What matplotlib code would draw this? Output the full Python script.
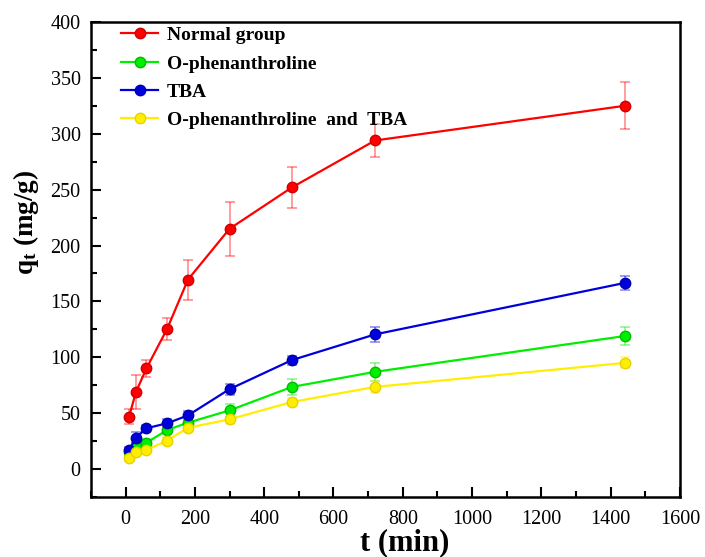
import matplotlib
matplotlib.use("Agg")
import matplotlib.pyplot as plt
from matplotlib.ticker import MultipleLocator

plt.rcParams['font.family'] = 'Liberation Serif'
plt.rcParams['mathtext.fontset'] = 'custom'
plt.rcParams['mathtext.rm'] = 'Liberation Serif'
plt.rcParams['mathtext.bf'] = 'Liberation Serif:bold'

# sampling times (min)
t = [10, 30, 60, 120, 180, 300, 480, 720, 1440]

# adsorption capacity q_t (mg/g) and error bars
normal = [47, 69, 90, 125.5, 169.5, 215, 252, 294, 325]
normal_err = [7, 15, 8, 10, 18, 24, 18, 15, 21]
ophen = [15, 20.5, 23.5, 35, 41.5, 52.5, 73.5, 87, 119]
ophen_err = [3, 3, 3, 4, 4, 6, 7, 8, 8]
tba = [17, 28, 36.5, 41, 48, 71.5, 97.5, 120.5, 166.5]
tba_err = [3, 5, 3, 4, 4, 5, 4, 7, 6]
both = [10, 15, 17, 25.5, 37, 44.5, 60, 73.5, 95]
both_err = [3, 3, 3, 3, 4, 4, 4, 5, 5]

labels = ["Normal group", "O-phenanthroline", "TBA", "O-phenanthroline  and  TBA"]
colors = ["#ff0000", "#00ee00", "#0000dd", "#ffee00"]
edge_colors = ["#cc0000", "#00bb00", "#0000aa", "#e6d200"]

fig = plt.figure(figsize=(7.05, 5.57), dpi=100)
ax = fig.add_axes([0.129, 0.1077, 0.8355, 0.8528])

series = [(normal, normal_err), (ophen, ophen_err), (tba, tba_err), (both, both_err)]
for (vals, errs), lab, c, ec in zip(series, labels, colors, edge_colors):
    ax.errorbar(t, vals, yerr=errs, fmt='none', ecolor=c, alpha=0.45,
                elinewidth=1.2, capsize=3.5, capthick=1.2, zorder=2)
    ax.plot(t, vals, '-o', color=c, lw=1.6, ms=7.5, mfc=c, mec=ec, mew=1.0,
            label=lab, zorder=3)

ax.set_xlim(-100, 1600)
ax.set_ylim(-25, 400)
ax.xaxis.set_major_locator(MultipleLocator(200))
ax.xaxis.set_minor_locator(MultipleLocator(100))
ax.yaxis.set_major_locator(MultipleLocator(50))
ax.yaxis.set_minor_locator(MultipleLocator(25))
ax.tick_params(which='both', direction='in', top=False, right=False,
               width=1.5, labelsize=14.5)
ax.tick_params(which='major', length=7)
ax.tick_params(which='minor', length=4)
ax.tick_params(axis='x', which='both', pad=9)
ax.tick_params(axis='y', which='both', pad=7.5)
for sp in ax.spines.values():
    sp.set_linewidth(1.8)

ax.set_xlabel("t (min)", fontsize=22, fontweight='bold')
ax.xaxis.set_label_coords(0.533, -0.065)
ax.set_ylabel(r"$\mathbf{q_t}$ (mg/g)", fontsize=19.5, fontweight='bold')
ax.yaxis.set_label_coords(-0.085, 0.579)

ax.legend(loc='upper left', frameon=False, prop={'weight': 'bold', 'size': 14},
          handlelength=1.9, handletextpad=0.45, labelspacing=0.55,
          borderaxespad=0.3, bbox_to_anchor=(0.028, 1.019))

fig.savefig("out.png", dpi=100)
